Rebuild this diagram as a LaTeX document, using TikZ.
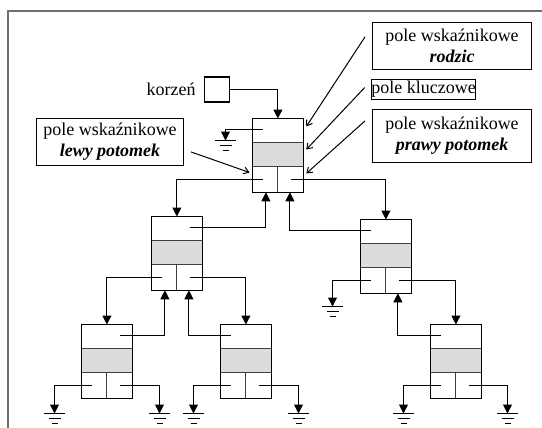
\documentclass[tikz,border=0pt]{standalone}
\usepackage{fontspec}
\setmainfont{Liberation Serif}
\usetikzlibrary{arrows.meta,calc}

\definecolor{keyfill}{RGB}{220,220,220}
\definecolor{framegray}{RGB}{112,112,112}

% one tree record: parent pointer, key field, left/right child pointers
\newcommand\recnode[3]{%
  \node[rec] (#1) at (#2,#3) {};
  \draw[sep, fill=keyfill] ($(#1.north west)+(0,24)$) rectangle ($(#1.north east)+(0,48)$);
  \draw[sep] (#1.south) -- ++(0,-25);
  \draw[rec line] (#1.north west) rectangle (#1.south east);
  \coordinate (#1-pl) at ($(#1.north west)+(10,11)$);
  \coordinate (#1-pr) at ($(#1.north west)+(38,11)$);
  \coordinate (#1-l)  at ($(#1.north west)+(10,61)$);
  \coordinate (#1-r)  at ($(#1.north west)+(38,61)$);
  \coordinate (#1-bl) at ($(#1.south)+(-12,0)$);
  \coordinate (#1-br) at ($(#1.south)+(12,0)$);
}
% null pointer (ground symbol)
\newcommand\earth[3]{%
  \coordinate (#1) at (#2,#3);
  \draw[gnd] ($(#1)+(-10.5,0)$) -- ++(21,0)
             ($(#1)+(-6,5)$) -- ++(12,0)
             ($(#1)+(-3,10)$) -- ++(6,0);
}

\begin{document}
\begin{tikzpicture}[x=0.5pt,y=-0.5pt,
  every node/.style={font=\fontsize{9}{10.5}\selectfont},
  rec/.style={anchor=north west,
    minimum width=25pt, minimum height=36.5pt, inner sep=0pt},
  rec line/.style={line width=0.6pt},
  sep/.style={line width=0.55pt, draw=black!75},
  gnd/.style={line width=0.5pt},
  ptr/.style={line width=0.5pt, -{Triangle[length=4.5pt,width=4.5pt]}},
  callout/.style={line width=0.5pt, -{Straight Barb[length=2.5pt,width=3.5pt]}},
  lbl/.style={draw, line width=0.55pt, align=center, inner sep=0pt}]

\useasboundingbox (0,0) rectangle (542,428);
\draw[framegray, line width=1pt] (8,428) -- (8,11) -- (542,11);

% records
\recnode{R}{252.5}{118.5}
\recnode{A}{151.5}{216.5}
\recnode{B}{360.5}{219.5}
\recnode{C}{81.5}{324.5}
\recnode{D}{220.5}{324.5}
\recnode{E}{430.5}{324.5}

% null pointers
\earth{gR}{225.5}{140.5}
\earth{gB}{332.5}{306.5}
\earth{gC1}{54.5}{413.5}
\earth{gC2}{159.5}{413.5}
\earth{gD1}{193.5}{413.5}
\earth{gD2}{298.5}{413.5}
\earth{gE1}{403.5}{413.5}
\earth{gE2}{507.5}{413.5}

% root pointer
\node[draw, line width=0.55pt, minimum size=12.5pt, inner sep=0pt] (K) at (217,89.5) {};
\node[anchor=east, inner sep=0pt] (Klbl) at ($(K.west)+(-8,0)$) {korzeń};
\draw[ptr] (K.east) -| (R.north);

% links
\draw[ptr] (R-pl) -| (gR);
\draw[ptr] (R-l) -| (A.north);
\draw[ptr] (R-r) -| (B.north);
\draw[ptr] (A-pr) -| (R-bl);
\draw[ptr] (B-pl) -| (R-br);
\draw[ptr] (A-l) -| (C.north);
\draw[ptr] (A-r) -| (D.north);
\draw[ptr] (C-pr) -| (A-bl);
\draw[ptr] (D-pl) -| (A-br);
\draw[ptr] (B-l) -| (gB);
\draw[ptr] (B-r) -| (E.north);
\draw[ptr] (E-pl) -| (B-br);
\draw[ptr] (C-l) -| (gC1);
\draw[ptr] (C-r) -| (gC2);
\draw[ptr] (D-l) -| (gD1);
\draw[ptr] (D-r) -| (gD2);
\draw[ptr] (E-l) -| (gE1);
\draw[ptr] (E-r) -| (gE2);

% field descriptions
\node[lbl, minimum width=79.5pt, minimum height=23.5pt] (Lrod) at (452,46)
  {pole wskaźnikowe\\\textbf{\textit{rodzic}}};
\node[lbl, minimum width=52pt, minimum height=10pt] (Lkey) at (423.5,89.5)
  {pole kluczowe};
\node[lbl, minimum width=79.5pt, minimum height=26.5pt] (Lright) at (452,136)
  {pole wskaźnikowe\\\textbf{\textit{prawy potomek}}};
\node[lbl, minimum width=73.5pt, minimum height=23.5pt] (Lleft) at (110,142)
  {pole wskaźnikowe\\\textbf{\textit{lewy potomek}}};

\draw[callout] ($(Lrod.north west)+(-7,15)$) -- ($(R.north east)+(3,8)$);
\draw[callout] ($(Lkey.west)+(-6,-2)$) -- ($(R.north east)+(3,31)$);
\draw[callout] ($(Lright.north west)+(-7,12)$) -- ($(R.north east)+(3,55)$);
\draw[callout] ($(Lleft.north east)+(7,34)$) -- ($(R.north west)+(-3,54)$);
\end{tikzpicture}
\end{document}
